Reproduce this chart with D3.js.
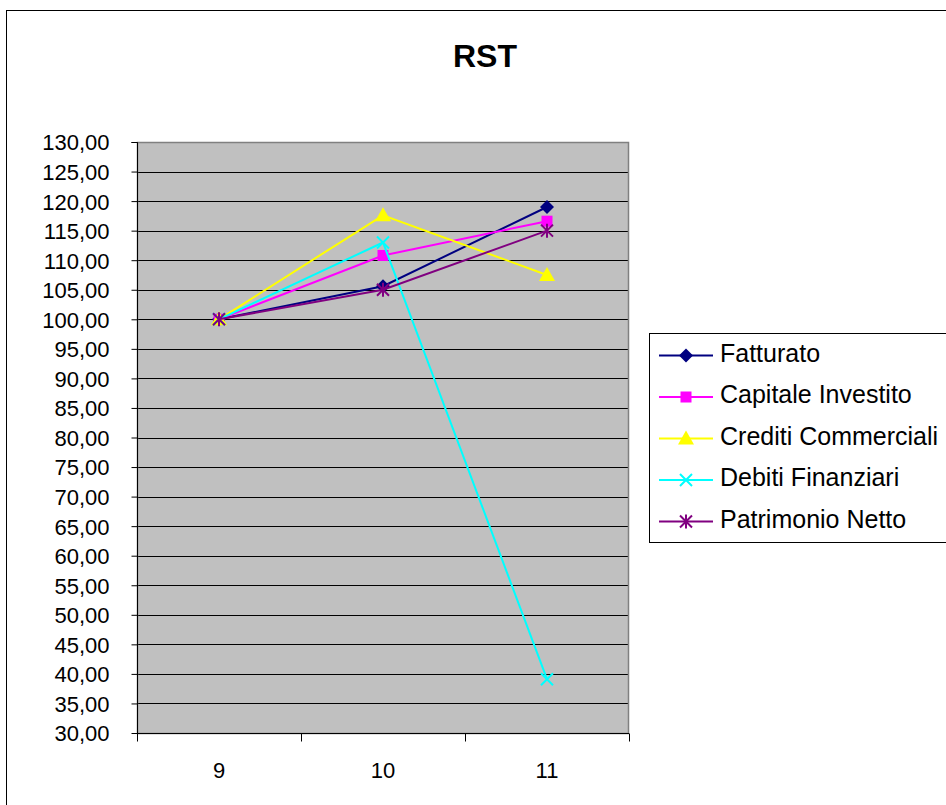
<!DOCTYPE html>
<html>
<head>
<meta charset="utf-8">
<script src="https://cdn.jsdelivr.net/npm/d3@7"></script>
<style>
  html, body { margin: 0; padding: 0; background: #fff; }
  svg { display: block; font-family: Arial, "Liberation Sans", sans-serif; }
</style>
</head>
<body>
<svg id="chart" width="946" height="805"></svg>
<script>
// Index numbers (base 9 = 100)
const categories = ["9", "10", "11"];
const seriesNames = ["Fatturato", "Capitale Investito", "Crediti Commerciali", "Debiti Finanziari", "Patrimonio Netto"];
const fatturato = [100, 105.6, 119.0];
const capitaleInvestito = [100, 110.8, 116.6];
const creditiCommerciali = [100, 117.6, 107.5];
const debitiFinanziari = [100, 113.0, 39.1];
const patrimonioNetto = [100, 105.0, 115.0];
const yTicks = d3.range(30, 131, 5);

const series = [
  { name: seriesNames[0], values: fatturato, color: "#000080", marker: "diamond" },
  { name: seriesNames[1], values: capitaleInvestito, color: "#FF00FF", marker: "square" },
  { name: seriesNames[2], values: creditiCommerciali, color: "#FFFF00", marker: "triangle" },
  { name: seriesNames[3], values: debitiFinanziari, color: "#00FFFF", marker: "x" },
  { name: seriesNames[4], values: patrimonioNetto, color: "#800080", marker: "star" }
];

const FONT = "Arial, 'Liberation Sans', sans-serif";
const svg = d3.select("#chart");
const plot = { left: 137, right: 629, top: 142, bottom: 733 };

// chart frame
svg.append("rect").attr("x", 6.5).attr("y", 10.5).attr("width", 1000).attr("height", 1000)
  .attr("fill", "#fff").attr("stroke", "#000").attr("stroke-width", 1);

svg.append("text").attr("x", 485).attr("y", 67).attr("text-anchor", "middle")
  .attr("font-size", 32).attr("font-weight", "bold").text("RST");

const x = d3.scaleBand().domain(categories).range([plot.left, plot.right]);
const y = d3.scaleLinear().domain([30, 130]).range([plot.bottom, plot.top]);

svg.append("rect").attr("x", plot.left).attr("y", plot.top)
  .attr("width", plot.right - plot.left).attr("height", plot.bottom - plot.top)
  .attr("fill", "#C0C0C0");

// horizontal gridlines
svg.append("g").selectAll("line").data(yTicks.filter(d => d > 30)).join("line")
  .attr("x1", plot.left).attr("x2", plot.right)
  .attr("y1", d => Math.round(y(d)) + 0.5).attr("y2", d => Math.round(y(d)) + 0.5)
  .attr("stroke", "#000").attr("stroke-width", 1);

svg.append("rect").attr("x", plot.left + 0.5).attr("y", plot.top + 0.5)
  .attr("width", plot.right - plot.left - 1).attr("height", plot.bottom - plot.top)
  .attr("fill", "none").attr("stroke", "#808080").attr("stroke-width", 1.5);

// y axis
const yAxis = d3.axisLeft(y).tickValues(yTicks).tickSize(6).tickPadding(22)
  .tickFormat(d => d3.format(".2f")(d).replace(".", ","));
const gy = svg.append("g").attr("transform", `translate(${plot.left + 0.5},0)`).call(yAxis);
gy.selectAll("text").attr("font-size", 22).attr("fill", "#000").attr("font-family", FONT).attr("dy", "0.36em");
gy.selectAll("line, path").attr("stroke", "#000");
gy.select(".domain").attr("d", `M-6,${plot.top + 0.5}H0V${plot.bottom + 0.5}`);

// x axis with ticks on category boundaries
const gx = svg.append("g").attr("transform", `translate(0,${plot.bottom + 0.5})`);
gx.append("line").attr("x1", plot.left).attr("x2", plot.right).attr("stroke", "#000");
const boundaries = categories.map(c => x(c)).concat([x(categories[categories.length - 1]) + x.bandwidth()]);
gx.selectAll("line.tick").data(boundaries).join("line").attr("class", "tick")
  .attr("x1", d => Math.round(d) + 0.5).attr("x2", d => Math.round(d) + 0.5)
  .attr("y1", 0).attr("y2", 8).attr("stroke", "#000");
gx.selectAll("text").data(categories).join("text")
  .attr("x", d => x(d) + x.bandwidth() / 2).attr("y", 44)
  .attr("text-anchor", "middle").attr("font-size", 22).text(d => d);

const cx = i => x(categories[i]) + x.bandwidth() / 2;

function drawMarker(g, type, color, px, py) {
  if (type === "diamond") {
    g.append("path").attr("d", `M${px},${py - 7}L${px + 7},${py}L${px},${py + 7}L${px - 7},${py}Z`).attr("fill", color);
  } else if (type === "square") {
    g.append("rect").attr("x", px - 5.5).attr("y", py - 5.5).attr("width", 11).attr("height", 11).attr("fill", color);
  } else if (type === "triangle") {
    g.append("path").attr("d", `M${px},${py - 8}L${px + 8},${py + 6}L${px - 8},${py + 6}Z`).attr("fill", color);
  } else if (type === "x") {
    g.append("path").attr("d", `M${px - 6},${py - 6}L${px + 6},${py + 6}M${px + 6},${py - 6}L${px - 6},${py + 6}`)
      .attr("stroke", color).attr("stroke-width", 2);
  } else if (type === "star") {
    g.append("path").attr("d", `M${px - 6},${py - 6}L${px + 6},${py + 6}M${px + 6},${py - 6}L${px - 6},${py + 6}M${px},${py - 7}V${py + 7}`)
      .attr("stroke", color).attr("stroke-width", 2);
  }
}

const line = d3.line().x((d, i) => cx(i)).y(d => y(d));
series.forEach(s => {
  const g = svg.append("g");
  g.append("path").attr("d", line(s.values)).attr("fill", "none").attr("stroke", s.color).attr("stroke-width", 2);
  s.values.forEach((v, i) => drawMarker(g, s.marker, s.color, cx(i), y(v)));
});

// legend
const lg = svg.append("g");
lg.append("rect").attr("x", 649.5).attr("y", 333.5).attr("width", 400).attr("height", 209)
  .attr("fill", "#fff").attr("stroke", "#000").attr("stroke-width", 1);
series.forEach((s, i) => {
  const ly = 355.5 + i * 41.5;
  lg.append("line").attr("x1", 659).attr("x2", 713).attr("y1", ly).attr("y2", ly)
    .attr("stroke", s.color).attr("stroke-width", 2);
  drawMarker(lg, s.marker, s.color, 686, ly);
  lg.append("text").attr("x", 720).attr("y", ly + 6).attr("font-size", 25).text(s.name);
});
</script>
</body>
</html>
